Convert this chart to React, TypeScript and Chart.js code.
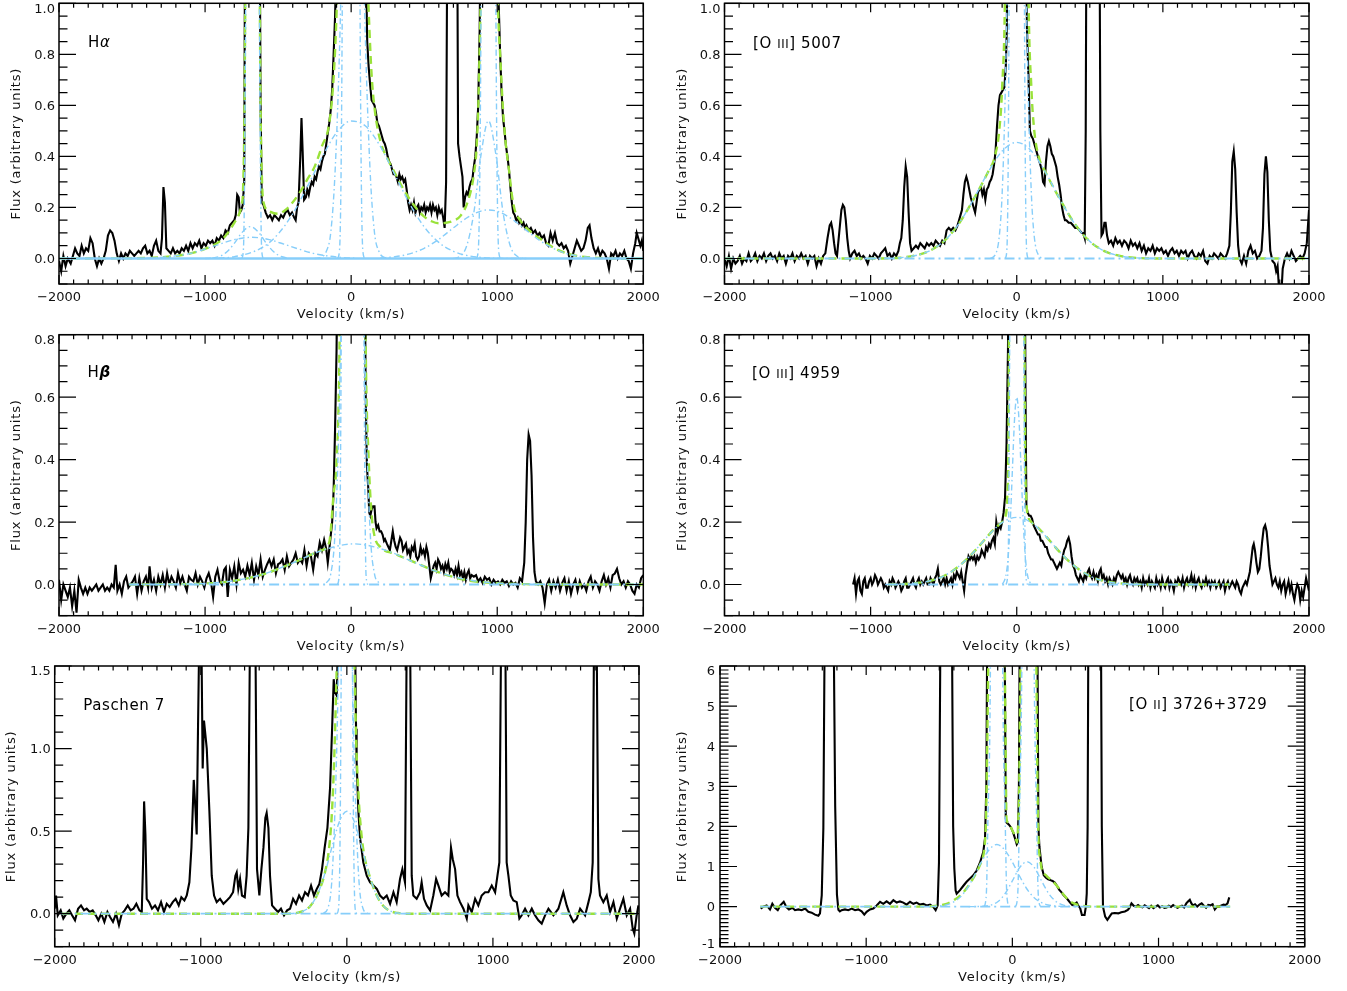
import React, { useEffect, useRef } from 'react';
import { Chart, registerables } from 'chart.js';

Chart.register(...registerables);

type Pt = [number, number];

// ---------------- tick values ----------------
const velocityTicks = [-2000, -1000, 0, 1000, 2000];
const fluxTicksTop = [0, 0.2, 0.4, 0.6, 0.8, 1.0];
const fluxTicksMid = [0, 0.2, 0.4, 0.6, 0.8];
const fluxTicksPa = [0, 0.5, 1.0, 1.5];
const fluxTicksO2 = [-1, 0, 1, 2, 3, 4, 5, 6];

// ---------------- H alpha ----------------
const haSpectrum: Pt[] = [
  [-2000,-0.01],[-1985,-0.05],[-1970,0.01],[-1955,-0.03],[-1940,0.0],[-1920,-0.02],[-1905,0.01],[-1890,0.04],[-1875,0.02],[-1860,0.01],
  [-1845,0.05],[-1830,0.02],[-1815,0.04],[-1800,0.03],[-1785,0.08],[-1770,0.06],[-1755,0.0],[-1740,-0.03],[-1725,0.0],[-1710,-0.02],
  [-1695,0.0],[-1680,0.03],[-1665,0.09],[-1650,0.11],[-1635,0.10],[-1620,0.07],[-1605,0.02],[-1590,-0.01],[-1575,0.02],[-1560,0.0],
  [-1545,0.02],[-1530,0.01],[-1515,0.03],[-1500,0.02],[-1485,0.01],[-1470,0.02],[-1455,0.03],[-1440,0.02],[-1425,0.04],[-1410,0.05],
  [-1395,0.02],[-1380,0.03],[-1365,0.01],[-1350,0.05],[-1335,0.07],[-1320,0.03],[-1305,0.02],[-1295,0.08],[-1285,0.28],[-1275,0.22],
  [-1265,0.04],[-1250,0.03],[-1235,0.02],[-1220,0.04],[-1205,0.02],[-1190,0.03],[-1175,0.02],[-1160,0.04],[-1145,0.03],[-1130,0.05],
  [-1115,0.03],[-1100,0.06],[-1085,0.04],[-1070,0.06],[-1055,0.05],[-1040,0.07],[-1025,0.04],[-1010,0.06],[-995,0.05],[-980,0.07],
  [-965,0.06],[-950,0.07],[-935,0.05],[-920,0.08],[-905,0.07],[-890,0.09],[-875,0.08],[-860,0.11],[-845,0.10],[-830,0.13],
  [-815,0.14],[-800,0.15],[-790,0.17],[-780,0.25],[-770,0.24],[-762,0.18],[-752,0.19],[-742,0.21],[-732,0.3],[-725,1.5],
  [-700,3],[-660,3],[-628,1.5],[-620,0.6],[-612,0.22],[-600,0.21],[-585,0.18],[-570,0.16],[-555,0.17],[-540,0.15],
  [-525,0.17],[-510,0.16],[-495,0.15],[-480,0.17],[-465,0.16],[-450,0.18],[-435,0.19],[-420,0.17],[-405,0.18],[-390,0.16],
  [-380,0.15],[-370,0.20],[-360,0.22],[-348,0.40],[-340,0.55],[-332,0.42],[-322,0.23],[-310,0.24],[-300,0.27],[-290,0.25],
  [-280,0.28],[-270,0.30],[-260,0.29],[-250,0.32],[-240,0.31],[-230,0.34],[-220,0.36],[-210,0.35],[-200,0.38],[-190,0.40],
  [-180,0.41],[-170,0.45],[-160,0.49],[-150,0.53],[-140,0.58],[-130,0.66],[-120,0.8],[-110,0.95],[-100,1.2],[-80,2.5],
  [0,4],[80,2.5],[100,1.2],[110,0.85],[120,0.75],[130,0.68],[140,0.62],[150,0.61],[160,0.60],[170,0.57],
  [180,0.53],[190,0.52],[200,0.50],[210,0.48],[220,0.46],[230,0.45],[240,0.43],[250,0.40],[260,0.38],[270,0.37],
  [280,0.35],[290,0.33],[300,0.33],[310,0.32],[320,0.30],[330,0.33],[340,0.31],[350,0.32],[360,0.30],[370,0.31],
  [380,0.27],[390,0.22],[400,0.19],[410,0.21],[420,0.19],[430,0.22],[440,0.18],[450,0.20],[460,0.21],[470,0.18],
  [480,0.20],[490,0.19],[500,0.21],[510,0.18],[520,0.20],[530,0.19],[540,0.21],[550,0.18],[560,0.21],[570,0.19],
  [580,0.20],[590,0.17],[600,0.20],[610,0.18],[620,0.19],[630,0.16],[640,0.12],[650,0.30],[660,1.5],[700,3],
  [725,1.5],[732,0.45],[742,0.40],[752,0.36],[762,0.32],[770,0.20],[780,0.24],[790,0.26],[800,0.25],[810,0.28],
  [820,0.30],[830,0.31],[840,0.36],[850,0.40],[860,0.48],[870,0.60],[880,0.9],[890,1.6],[940,4],[1000,1.6],
  [1010,1.0],[1020,0.8],[1030,0.65],[1040,0.55],[1050,0.50],[1060,0.44],[1070,0.40],[1080,0.35],[1090,0.28],[1100,0.22],
  [1110,0.18],[1120,0.17],[1130,0.15],[1140,0.16],[1150,0.14],[1160,0.15],[1170,0.13],[1180,0.14],[1190,0.12],[1200,0.13],
  [1215,0.11],[1230,0.12],[1245,0.10],[1260,0.11],[1275,0.09],[1290,0.10],[1305,0.08],[1320,0.09],[1335,0.06],[1350,0.05],
  [1365,0.10],[1380,0.07],[1395,0.10],[1410,0.06],[1425,0.05],[1440,0.06],[1455,0.04],[1470,0.05],[1485,0.03],[1500,-0.02],
  [1515,0.01],[1530,0.04],[1545,0.07],[1560,0.05],[1575,0.03],[1590,0.04],[1605,0.07],[1620,0.12],[1632,0.13],[1645,0.08],
  [1660,0.04],[1675,0.02],[1690,0.04],[1705,0.01],[1720,0.03],[1735,0.02],[1750,0.0],[1765,-0.04],[1780,0.02],[1795,0.01],
  [1810,0.03],[1825,0.0],[1840,0.02],[1855,0.01],[1870,0.03],[1885,0.0],[1900,-0.01],[1915,-0.04],[1930,0.02],[1945,0.06],
  [1955,0.10],[1965,0.08],[1980,0.05],[1990,0.07],[2000,0.03],
];
const haFit: Pt[] = [
  [-2000,0],[-1500,0.001],[-1400,0.002],[-1300,0.005],[-1200,0.01],[-1100,0.02],[-1000,0.038],[-900,0.067],[-850,0.096],[-800,0.14],
  [-770,0.17],[-750,0.21],[-740,0.27],[-730,0.6],[-720,1.5],[-700,4],[-650,4],[-630,1.5],[-620,0.6],[-610,0.3],
  [-600,0.22],[-560,0.185],[-500,0.175],[-450,0.19],[-400,0.22],[-350,0.26],[-300,0.31],[-250,0.36],[-200,0.44],[-150,0.53],
  [-120,0.71],[-100,0.96],[-80,1.4],[-50,3],[0,8],[50,3],[80,1.6],[100,1.3],[120,0.97],[140,0.72],
  [160,0.59],[200,0.46],[250,0.39],[300,0.334],[350,0.28],[400,0.233],[450,0.194],[500,0.164],[550,0.146],[600,0.138],
  [650,0.14],[700,0.148],[750,0.168],[800,0.226],[840,0.33],[860,0.45],[875,0.7],[890,1.3],[910,4],[970,4],
  [990,1.5],[1005,1.0],[1020,0.8],[1040,0.58],[1060,0.44],[1080,0.35],[1100,0.25],[1120,0.19],[1150,0.155],[1200,0.12],
  [1300,0.075],[1400,0.038],[1500,0.016],[1600,0.006],[1700,0.002],[1800,0],[2000,0],
];
const haBroad: Pt[] = [[-1000,0],[-800,0.007],[-600,0.046],[-500,0.096],[-400,0.175],[-300,0.281],[-200,0.396],[-100,0.493],[0,0.539],[100,0.518],[200,0.439],[300,0.327],[400,0.215],[500,0.124],[600,0.063],[700,0.028],[800,0.011],[1000,0.001],[1200,0]];
const haMedium: Pt[] = [[-250,0],[-200,0.006],[-170,0.028],[-140,0.10],[-110,0.34],[-80,0.81],[-50,1.52],[10,2.5],[70,1.52],[100,0.81],[130,0.34],[160,0.10],[190,0.028],[220,0.006],[270,0]];
const haNarrow: Pt[] = [[-95,0],[-80,0.03],[-65,0.6],[-45,3],[0,8],[45,3],[65,0.6],[80,0.03],[95,0]];
const n2rBroad: Pt[] = [[200,0.002],[300,0.007],[400,0.018],[500,0.04],[600,0.075],[700,0.12],[800,0.162],[900,0.188],[940,0.19],[1000,0.185],[1100,0.155],[1200,0.11],[1300,0.067],[1400,0.035],[1500,0.015],[1600,0.006],[1700,0]];
const n2rMedium: Pt[] = [[700,0],[740,0.007],[790,0.048],[840,0.18],[890,0.41],[940,0.54],[990,0.41],[1040,0.18],[1090,0.048],[1140,0.007],[1180,0]];
const n2rNarrow: Pt[] = [[855,0],[870,0.03],[885,0.6],[905,3],[940,8],[975,3],[995,0.6],[1010,0.03],[1025,0]];
const n2bBroad: Pt[] = [[-1400,0.001],[-1300,0.004],[-1200,0.01],[-1100,0.02],[-1000,0.037],[-900,0.056],[-800,0.074],[-680,0.083],[-560,0.074],[-460,0.056],[-360,0.037],[-260,0.02],[-160,0.01],[-60,0.004],[40,0.001]];
const n2bMedium: Pt[] = [[-950,0.002],[-900,0.008],[-850,0.026],[-800,0.059],[-750,0.1],[-690,0.125],[-630,0.1],[-580,0.059],[-530,0.026],[-480,0.008],[-430,0.002]];
const n2bNarrow: Pt[] = [[-750,0],[-738,0.03],[-726,0.6],[-708,3],[-675,8],[-642,3],[-624,0.6],[-612,0.03],[-600,0]];
const haZeroRange: [number, number] = [-2000, 2000];

// ---------------- [O III] 5007 ----------------
const o3aSpectrum: Pt[] = [
  [-2000,0.0],[-1985,-0.03],[-1970,0.01],[-1955,-0.04],[-1940,0.0],[-1925,-0.02],[-1910,-0.01],[-1895,0.01],[-1880,-0.02],[-1865,0.0],
  [-1850,-0.01],[-1835,0.02],[-1820,-0.01],[-1805,0.0],[-1790,0.02],[-1775,-0.01],[-1760,0.01],[-1745,0.0],[-1730,0.02],[-1715,-0.01],
  [-1700,0.01],[-1685,0.02],[-1670,0.0],[-1655,0.01],[-1640,-0.01],[-1625,0.02],[-1610,0.0],[-1595,0.01],[-1580,-0.02],[-1565,0.01],
  [-1550,0.0],[-1535,0.02],[-1520,-0.01],[-1505,0.01],[-1490,0.0],[-1475,0.02],[-1460,0.0],[-1445,0.01],[-1430,-0.02],[-1415,0.01],
  [-1400,0.0],[-1385,0.01],[-1370,-0.03],[-1355,0.0],[-1340,-0.02],[-1325,0.01],[-1310,0.02],[-1295,0.08],[-1280,0.13],[-1270,0.14],
  [-1260,0.11],[-1250,0.06],[-1240,0.02],[-1230,0.01],[-1215,0.10],[-1200,0.19],[-1190,0.21],[-1180,0.20],[-1170,0.15],[-1160,0.08],
  [-1150,0.03],[-1140,0.0],[-1125,0.02],[-1110,0.03],[-1095,0.01],[-1080,0.02],[-1065,0.0],[-1050,0.01],[-1035,0.0],[-1020,-0.02],
  [-1005,0.01],[-990,0.0],[-975,0.02],[-960,0.01],[-945,0.0],[-930,0.02],[-915,0.03],[-900,0.04],[-885,0.01],[-870,0.02],
  [-855,0.0],[-840,0.02],[-825,0.01],[-810,0.03],[-800,0.06],[-790,0.08],[-780,0.15],[-770,0.28],[-760,0.36],[-750,0.32],
  [-740,0.18],[-730,0.06],[-720,0.03],[-705,0.04],[-690,0.05],[-675,0.04],[-660,0.06],[-645,0.05],[-630,0.04],[-615,0.06],
  [-600,0.05],[-585,0.06],[-570,0.05],[-555,0.07],[-540,0.06],[-525,0.05],[-510,0.07],[-495,0.06],[-480,0.11],[-465,0.12],
  [-450,0.11],[-435,0.12],[-420,0.11],[-405,0.13],[-395,0.15],[-385,0.17],[-375,0.19],[-365,0.25],[-355,0.30],[-345,0.32],
  [-335,0.30],[-325,0.27],[-315,0.24],[-305,0.22],[-295,0.20],[-285,0.18],[-275,0.22],[-265,0.26],[-255,0.27],[-245,0.28],
  [-235,0.25],[-225,0.27],[-215,0.23],[-205,0.27],[-195,0.28],[-185,0.30],[-175,0.31],[-165,0.33],[-155,0.37],[-145,0.42],
  [-135,0.52],[-125,0.60],[-115,0.64],[-105,0.65],[-95,0.66],[-85,0.67],[-75,0.75],[-68,0.9],[-60,1.5],[0,3],
  [60,1.5],[70,0.9],[80,0.72],[90,0.50],[100,0.48],[110,0.47],[120,0.45],[130,0.43],[140,0.41],[150,0.39],
  [160,0.37],[170,0.35],[180,0.30],[190,0.29],[200,0.38],[210,0.44],[220,0.46],[230,0.44],[240,0.41],[250,0.40],
  [260,0.38],[270,0.36],[280,0.32],[290,0.29],[300,0.25],[310,0.20],[320,0.17],[330,0.15],[340,0.15],[355,0.14],
  [370,0.14],[385,0.13],[400,0.12],[415,0.12],[430,0.11],[445,0.10],[455,0.10],[465,0.08],[472,0.5],[478,1.5],
  [565,1.5],[572,0.5],[580,0.09],[590,0.10],[600,0.14],[608,0.14],[618,0.09],[630,0.06],[645,0.07],[660,0.05],
  [675,0.08],[690,0.06],[705,0.07],[720,0.05],[735,0.07],[750,0.06],[765,0.04],[780,0.07],[795,0.05],[810,0.06],
  [825,0.04],[840,0.06],[855,0.03],[870,0.05],[885,0.02],[900,0.04],[915,0.03],[930,0.05],[945,0.02],[960,0.04],
  [975,0.03],[990,0.04],[1005,0.02],[1020,0.03],[1035,0.01],[1050,0.03],[1065,0.04],[1080,0.02],[1095,0.03],[1110,0.01],
  [1125,0.03],[1140,0.02],[1155,0.03],[1170,0.0],[1185,0.02],[1200,0.03],[1215,0.01],[1230,0.0],[1245,0.02],[1260,0.01],
  [1275,0.03],[1290,-0.01],[1305,-0.02],[1320,0.01],[1335,0.0],[1350,0.02],[1365,0.01],[1380,0.0],[1395,0.02],[1410,0.01],
  [1425,0.0],[1440,0.02],[1455,0.05],[1465,0.18],[1475,0.38],[1485,0.42],[1495,0.35],[1505,0.18],[1515,0.05],[1525,0.0],
  [1540,-0.02],[1555,0.01],[1570,-0.02],[1585,0.03],[1600,0.05],[1615,0.02],[1630,0.03],[1645,0.0],[1660,0.01],[1675,0.03],
  [1685,0.12],[1695,0.33],[1705,0.40],[1715,0.34],[1725,0.15],[1735,0.03],[1750,-0.01],[1765,-0.02],[1775,-0.05],[1785,-0.03],
  [1795,-0.12],[1810,-0.15],[1820,-0.04],[1835,0.0],[1850,0.02],[1865,0.0],[1880,0.03],[1895,0.01],[1910,-0.01],[1925,0.0],
  [1940,0.01],[1955,0.0],[1970,0.02],[1985,0.06],[2000,0.19],
];
const o3aFit: Pt[] = [[-2000,0],[-1000,0],[-800,0.003],[-700,0.011],[-600,0.029],[-500,0.067],[-400,0.133],[-300,0.228],[-200,0.335],[-150,0.40],[-120,0.50],[-100,0.67],[-80,1.05],[-60,2.4],[-40,6],[0,11],[40,6],[60,2.4],[80,1.05],[100,0.67],[120,0.50],[150,0.40],[200,0.335],[300,0.228],[400,0.133],[500,0.067],[600,0.029],[700,0.011],[800,0.003],[1000,0],[2000,0]];
const o3aBroad: Pt[] = [[-1000,0],[-900,0.001],[-800,0.003],[-700,0.0105],[-600,0.029],[-500,0.067],[-400,0.133],[-300,0.228],[-200,0.334],[-100,0.421],[0,0.455],[100,0.421],[200,0.334],[300,0.228],[400,0.133],[500,0.067],[600,0.029],[700,0.0105],[800,0.003],[900,0.001],[1000,0]];
const o3aNarrow1: Pt[] = [[-180,0.001],[-150,0.012],[-120,0.085],[-100,0.254],[-80,0.62],[-60,1.23],[-40,2.02],[0,3],[40,2.02],[60,1.23],[80,0.62],[100,0.254],[120,0.085],[150,0.012],[180,0.001]];
const o3aNarrow2: Pt[] = [[-80,0],[-68,0.03],[-56,0.6],[-40,3],[0,8],[40,3],[56,0.6],[68,0.03],[80,0]];
const o3aZeroRange: [number, number] = [-2000, 2000];

// ---------------- H beta ----------------
const hbSpectrum: Pt[] = [
  [-2000,0.015],[-1985,-0.05],[-1970,0.0],[-1955,-0.02],[-1940,-0.04],[-1925,-0.01],[-1910,-0.07],[-1895,-0.02],[-1880,-0.09],[-1865,0.015],
  [-1850,-0.01],[-1835,-0.03],[-1820,-0.01],[-1805,-0.03],[-1790,-0.01],[-1775,-0.02],[-1760,-0.01],[-1745,0.0],[-1730,-0.02],[-1715,-0.01],
  [-1700,0.0],[-1685,-0.02],[-1670,-0.01],[-1655,-0.02],[-1640,0.0],[-1625,-0.01],[-1612,0.063],[-1600,-0.02],[-1585,0.0],[-1570,-0.03],
  [-1555,0.01],[-1540,0.025],[-1525,-0.01],[-1510,0.0],[-1495,0.01],[-1480,0.025],[-1465,-0.03],[-1450,0.02],[-1435,-0.02],[-1420,0.01],
  [-1405,0.025],[-1390,-0.01],[-1380,0.058],[-1365,-0.01],[-1350,0.015],[-1335,-0.02],[-1320,0.025],[-1305,0.0],[-1290,0.03],[-1275,-0.01],
  [-1260,0.036],[-1245,0.0],[-1230,0.025],[-1215,0.01],[-1200,-0.01],[-1185,0.036],[-1170,0.005],[-1155,0.025],[-1140,0.0],[-1125,-0.02],
  [-1110,0.025],[-1095,0.015],[-1080,0.01],[-1065,0.036],[-1050,0.0],[-1035,0.025],[-1020,0.01],[-1005,-0.01],[-990,0.02],[-975,0.036],
  [-960,0.01],[-945,-0.04],[-930,0.025],[-915,0.047],[-900,0.01],[-885,0.0],[-870,0.047],[-858,0.055],[-845,-0.04],[-830,0.047],
  [-815,0.02],[-800,0.058],[-785,0.0],[-770,0.069],[-755,0.036],[-740,0.047],[-725,0.025],[-710,0.06],[-695,0.03],[-680,0.069],
  [-665,0.015],[-650,0.058],[-635,0.03],[-620,0.08],[-605,0.025],[-590,0.047],[-575,0.065],[-560,0.08],[-545,0.058],[-530,0.08],
  [-515,0.036],[-500,0.065],[-485,0.069],[-470,0.08],[-455,0.047],[-440,0.09],[-425,0.058],[-410,0.069],[-395,0.08],[-380,0.1],
  [-365,0.069],[-350,0.08],[-335,0.069],[-320,0.11],[-305,0.06],[-290,0.1],[-275,0.09],[-260,0.047],[-245,0.1],[-230,0.09],
  [-215,0.134],[-200,0.11],[-185,0.143],[-170,0.112],[-160,0.07],[-150,0.112],[-140,0.156],[-130,0.2],[-120,0.3],[-110,0.5],
  [-100,0.75],[-90,1.2],[0,3],[90,1.2],[100,0.6],[108,0.38],[117,0.31],[124,0.23],[131,0.22],[140,0.24],
  [150,0.25],[160,0.25],[167,0.20],[174,0.18],[185,0.19],[195,0.17],[205,0.17],[215,0.16],[225,0.14],[232,0.145],
  [245,0.13],[255,0.12],[265,0.11],[275,0.14],[285,0.17],[295,0.14],[305,0.12],[315,0.11],[325,0.13],[335,0.15],
  [345,0.14],[355,0.11],[365,0.12],[375,0.13],[385,0.10],[395,0.11],[405,0.09],[415,0.12],[425,0.11],[435,0.13],
  [445,0.09],[455,0.08],[465,0.09],[475,0.12],[485,0.10],[495,0.11],[505,0.09],[515,0.12],[525,0.10],[535,0.06],
  [545,0.02],[555,0.04],[565,0.06],[575,0.07],[585,0.05],[595,0.08],[605,0.07],[615,0.05],[625,0.06],[635,0.04],
  [645,0.065],[655,0.05],[665,0.07],[675,0.04],[685,0.05],[695,0.045],[705,0.03],[715,0.05],[725,0.03],[735,0.06],
  [745,0.03],[755,0.04],[765,0.02],[775,0.04],[785,0.015],[795,0.035],[805,0.045],[815,0.02],[825,0.03],[840,0.025],
  [855,0.03],[870,0.01],[885,0.02],[900,0.005],[915,0.025],[930,0.015],[945,0.02],[960,0.0],[975,0.015],[990,0.005],
  [1005,0.01],[1020,0.0],[1035,0.015],[1050,0.005],[1065,0.01],[1080,-0.005],[1095,0.01],[1110,0.0],[1125,0.005],[1140,-0.01],
  [1155,0.02],[1170,0.01],[1185,0.07],[1195,0.2],[1205,0.4],[1215,0.48],[1225,0.46],[1235,0.35],[1245,0.15],[1255,0.04],
  [1265,0.01],[1280,0.0],[1295,0.01],[1310,-0.01],[1325,-0.06],[1340,0.0],[1355,0.015],[1370,-0.02],[1385,0.01],[1400,-0.01],
  [1415,0.015],[1430,-0.02],[1445,0.005],[1460,0.02],[1475,-0.02],[1490,0.01],[1505,-0.03],[1520,0.0],[1535,0.015],[1550,-0.02],
  [1565,0.01],[1580,-0.01],[1595,0.0],[1610,-0.02],[1625,0.01],[1640,0.025],[1655,-0.01],[1670,0.01],[1685,0.0],[1700,-0.02],
  [1715,0.01],[1730,0.03],[1745,0.0],[1760,0.02],[1775,-0.01],[1790,0.03],[1805,0.035],[1820,0.05],[1835,0.02],[1850,0.0],
  [1865,0.01],[1880,-0.01],[1895,0.01],[1910,0.0],[1925,-0.02],[1940,-0.03],[1955,0.0],[1970,-0.01],[1985,0.02],[2000,0.03],
];
const hbFit: Pt[] = [[-1520,0],[-1200,0.001],[-1000,0.003],[-800,0.012],[-600,0.033],[-400,0.069],[-300,0.09],[-200,0.11],[-150,0.135],[-120,0.29],[-100,0.39],[-80,0.75],[-60,1.9],[-40,5],[10,11],[60,5],[80,1.9],[100,0.75],[120,0.4],[140,0.225],[160,0.155],[200,0.12],[300,0.098],[400,0.078],[600,0.039],[800,0.013],[1000,0.004],[1200,0.001],[1500,0],[2000,0]];
const hbBroad: Pt[] = [[-1500,0],[-1200,0.001],[-1000,0.003],[-800,0.012],[-600,0.033],[-400,0.069],[-200,0.109],[20,0.13],[240,0.109],[440,0.069],[640,0.033],[840,0.012],[1040,0.003],[1240,0.001],[1540,0]];
const hbNarrow1: Pt[] = [[-170,0.005],[-140,0.033],[-110,0.17],[-80,0.59],[-50,1.46],[-20,2.5],[10,3],[40,2.5],[70,1.46],[100,0.59],[130,0.17],[160,0.033],[190,0.005]];
const hbNarrow2: Pt[] = [[-95,0],[-82,0.03],[-70,0.6],[-50,3],[10,8],[70,3],[90,0.6],[102,0.03],[115,0]];
const hbZeroRange: [number, number] = [-1520, 2000];

// ---------------- [O III] 4959 ----------------
const o3bSpectrum: Pt[] = [
  [-1120,0.0],[-1110,0.02],[-1100,-0.03],[-1090,0.01],[-1080,0.02],[-1070,-0.02],[-1060,-0.03],[-1050,0.01],[-1040,0.02],[-1030,-0.01],
  [-1020,-0.01],[-1010,0.01],[-1000,0.02],[-990,0.0],[-980,0.01],[-970,0.03],[-960,0.02],[-950,0.0],[-940,0.01],[-930,0.02],
  [-920,0.01],[-910,-0.01],[-900,0.0],[-890,-0.01],[-880,-0.02],[-870,0.01],[-860,0.0],[-850,0.02],[-840,0.01],[-830,-0.01],
  [-820,0.0],[-810,0.01],[-800,0.0],[-790,-0.02],[-780,-0.01],[-770,0.01],[-760,0.02],[-750,-0.01],[-740,-0.01],[-730,0.0],
  [-720,0.01],[-710,0.02],[-700,0.0],[-690,-0.01],[-680,0.01],[-670,0.02],[-660,0.0],[-650,0.01],[-640,0.0],[-630,0.01],
  [-620,0.02],[-610,0.0],[-600,0.0],[-590,0.02],[-580,0.01],[-570,0.0],[-560,0.02],[-550,0.03],[-540,0.05],[-530,0.01],
  [-520,0.0],[-510,0.01],[-500,0.02],[-490,0.0],[-480,0.02],[-470,0.0],[-460,0.01],[-450,0.02],[-440,0.0],[-430,0.03],
  [-420,0.02],[-410,0.04],[-400,0.03],[-390,0.02],[-380,0.04],[-370,0.01],[-360,-0.02],[-350,0.03],[-340,0.06],[-330,0.09],
  [-320,0.08],[-310,0.09],[-300,0.08],[-290,0.09],[-280,0.07],[-270,0.09],[-260,0.08],[-250,0.09],[-240,0.11],[-230,0.10],
  [-220,0.09],[-210,0.12],[-200,0.11],[-190,0.13],[-180,0.12],[-170,0.14],[-160,0.15],[-150,0.13],[-140,0.20],[-130,0.17],
  [-120,0.19],[-110,0.18],[-100,0.20],[-90,0.23],[-80,0.28],[-70,0.45],[-60,0.75],[-50,1.5],[0,3],[50,1.5],
  [60,0.6],[66,0.25],[75,0.23],[85,0.22],[95,0.22],[105,0.21],[115,0.19],[125,0.18],[135,0.17],[145,0.16],
  [155,0.16],[165,0.14],[175,0.14],[185,0.13],[195,0.12],[205,0.12],[215,0.10],[225,0.09],[235,0.08],[245,0.08],
  [255,0.07],[265,0.06],[275,0.05],[285,0.06],[295,0.07],[305,0.06],[315,0.09],[325,0.11],[335,0.12],[345,0.14],
  [355,0.15],[365,0.13],[375,0.09],[385,0.06],[395,0.05],[405,0.03],[415,0.02],[425,0.01],[435,0.03],[445,0.02],
  [455,0.01],[465,0.03],[475,0.02],[485,0.04],[495,0.05],[505,0.03],[515,0.02],[525,0.04],[535,0.02],[545,0.03],
  [555,0.01],[565,0.04],[575,0.05],[585,0.02],[595,0.03],[605,0.01],[615,0.02],[625,0.0],[635,0.02],[645,0.01],
  [655,0.0],[665,0.02],[675,0.01],[685,0.03],[695,0.04],[705,0.03],[715,0.02],[725,0.03],[735,0.01],[745,0.02],
  [755,0.0],[765,0.02],[775,0.03],[785,0.01],[795,0.0],[805,0.02],[815,0.01],[825,0.02],[835,0.0],[845,0.01],
  [855,-0.01],[865,0.02],[875,0.0],[885,0.01],[895,0.0],[905,0.02],[915,-0.01],[925,0.01],[935,0.0],[945,-0.01],
  [955,0.02],[965,0.0],[975,0.01],[985,-0.01],[995,0.02],[1005,0.0],[1015,-0.01],[1025,0.01],[1035,0.02],[1045,-0.01],
  [1055,0.01],[1065,0.0],[1075,-0.02],[1085,0.01],[1095,0.0],[1105,0.02],[1115,0.01],[1125,0.0],[1135,0.02],[1145,-0.01],
  [1155,0.01],[1165,0.02],[1175,0.0],[1185,0.01],[1195,0.03],[1205,0.0],[1215,0.02],[1225,-0.01],[1235,0.01],[1245,0.02],
  [1255,0.0],[1265,-0.01],[1275,0.01],[1285,0.0],[1295,0.02],[1305,0.0],[1315,0.01],[1325,-0.01],[1335,0.01],[1345,0.0],
  [1355,0.01],[1365,-0.01],[1375,0.0],[1385,0.01],[1395,-0.01],[1405,0.0],[1415,0.01],[1425,-0.02],[1435,0.0],[1445,0.01],
  [1455,-0.01],[1465,0.0],[1475,0.01],[1485,0.0],[1495,-0.01],[1505,0.01],[1515,0.0],[1525,-0.02],[1535,-0.03],[1545,-0.01],
  [1555,0.0],[1565,0.01],[1575,0.0],[1585,0.02],[1595,0.04],[1605,0.08],[1615,0.12],[1622,0.13],[1630,0.11],[1640,0.07],
  [1650,0.04],[1660,0.05],[1670,0.09],[1680,0.14],[1690,0.18],[1700,0.19],[1710,0.17],[1720,0.12],[1730,0.06],[1740,0.03],
  [1750,0.0],[1760,0.01],[1770,0.02],[1780,0.0],[1790,-0.01],[1800,0.01],[1810,-0.02],[1820,0.0],[1830,0.01],[1840,-0.03],
  [1850,-0.01],[1860,0.01],[1870,-0.02],[1880,0.0],[1890,-0.03],[1900,-0.05],[1910,-0.02],[1920,0.0],[1930,-0.01],[1940,-0.05],
  [1950,-0.02],[1960,-0.04],[1970,-0.01],[1980,0.02],[1990,0.0],[2000,-0.02],
];
const o3bFit: Pt[] = [[-880,0],[-800,0.001],[-700,0.004],[-600,0.011],[-500,0.027],[-400,0.057],[-300,0.101],[-200,0.154],[-150,0.18],[-100,0.2],[-80,0.215],[-65,0.28],[-55,0.62],[-45,2.4],[-35,4],[0,9],[35,4],[45,2.4],[55,0.62],[65,0.28],[80,0.215],[100,0.2],[150,0.18],[200,0.154],[300,0.101],[400,0.057],[500,0.027],[600,0.011],[700,0.004],[800,0.001],[880,0],[1460,0]];
const o3bBroad: Pt[] = [[-900,0],[-800,0.001],[-700,0.004],[-600,0.011],[-500,0.027],[-400,0.057],[-300,0.101],[-200,0.154],[-100,0.198],[0,0.215],[100,0.198],[200,0.154],[300,0.101],[400,0.057],[500,0.027],[600,0.011],[700,0.004],[800,0.001],[900,0]];
const o3bMedium: Pt[] = [[-100,0.002],[-90,0.007],[-75,0.027],[-60,0.081],[-45,0.195],[-30,0.364],[-15,0.53],[0,0.6],[15,0.53],[30,0.364],[45,0.195],[60,0.081],[75,0.027],[90,0.007],[100,0.002]];
const o3bNarrow: Pt[] = [[-75,0],[-62,0.03],[-50,0.6],[-35,3],[0,8],[35,3],[50,0.6],[62,0.03],[75,0]];
const o3bZeroRange: [number, number] = [-880, 1460];

// ---------------- Paschen 7 ----------------
const paSpectrum: Pt[] = [
  [-2000,0.03],[-1991,0.11],[-1979,-0.01],[-1959,0.02],[-1941,-0.03],[-1920,0.0],[-1900,0.02],[-1881,-0.01],[-1861,-0.04],[-1840,0.03],
  [-1820,0.05],[-1799,0.02],[-1781,0.03],[-1760,0.01],[-1740,0.02],[-1719,-0.01],[-1701,-0.04],[-1681,0.0],[-1660,-0.05],[-1639,0.01],
  [-1621,-0.02],[-1601,-0.05],[-1580,0.0],[-1560,-0.07],[-1541,0.0],[-1521,0.02],[-1500,0.05],[-1480,0.02],[-1461,0.03],[-1441,0.06],
  [-1420,0.02],[-1404,0.01],[-1395,0.31],[-1388,0.68],[-1379,0.48],[-1370,0.09],[-1354,0.07],[-1334,0.03],[-1313,0.05],[-1293,0.02],
  [-1272,0.07],[-1252,0.01],[-1233,0.06],[-1213,0.04],[-1192,0.07],[-1172,0.09],[-1151,0.05],[-1133,0.10],[-1112,0.08],[-1096,0.11],
  [-1078,0.19],[-1064,0.40],[-1048,0.81],[-1037,0.64],[-1028,0.48],[-1019,1.12],[-1010,1.7],[-996,1.7],[-987,0.88],[-978,1.17],
  [-959,1.0],[-941,0.62],[-925,0.23],[-909,0.11],[-891,0.07],[-868,0.09],[-845,0.06],[-822,0.08],[-800,0.10],[-779,0.13],
  [-763,0.23],[-754,0.25],[-743,0.15],[-731,0.21],[-718,0.11],[-699,0.10],[-686,0.23],[-674,0.52],[-663,1.7],[-626,1.7],
  [-615,0.27],[-599,0.11],[-585,0.27],[-571,0.40],[-558,0.58],[-549,0.61],[-537,0.52],[-526,0.23],[-512,0.05],[-492,0.03],
  [-471,0.01],[-451,0.03],[-430,-0.01],[-409,0.02],[-389,0.03],[-368,0.09],[-348,0.06],[-327,0.11],[-307,0.08],[-286,0.13],
  [-266,0.11],[-245,0.17],[-225,0.11],[-206,0.15],[-188,0.18],[-170,0.27],[-152,0.40],[-133,0.52],[-115,0.76],[-101,1.12],
  [-90,1.42],[-80,1.34],[-69,1.32],[-60,1.7],[56,1.7],[63,1.12],[67,0.92],[79,0.62],[90,0.46],[113,0.31],
  [136,0.23],[159,0.19],[182,0.17],[205,0.15],[227,0.11],[250,0.09],[273,0.11],[296,0.06],[319,0.13],[341,0.07],
  [364,0.21],[380,0.27],[398,0.19],[410,1.7],[433,1.7],[444,0.23],[455,0.11],[478,0.09],[501,0.13],[512,0.19],
  [528,0.09],[547,0.05],[570,0.02],[592,0.11],[611,0.21],[627,0.17],[649,0.11],[672,0.13],[695,0.11],[713,0.40],
  [725,0.33],[741,0.27],[757,0.11],[775,0.07],[798,0.03],[821,-0.03],[832,0.05],[855,0.01],[878,0.09],[900,0.05],
  [923,0.11],[946,0.13],[969,0.13],[992,0.17],[1015,0.13],[1031,0.23],[1044,0.31],[1056,1.7],[1085,1.7],[1094,0.31],
  [1106,0.23],[1122,0.11],[1140,0.08],[1163,0.07],[1181,-0.03],[1197,-0.01],[1220,0.03],[1243,-0.01],[1266,0.03],[1288,-0.01],
  [1311,-0.04],[1334,-0.06],[1357,-0.01],[1380,0.03],[1414,-0.01],[1448,0.03],[1482,0.13],[1505,0.05],[1528,-0.01],[1551,-0.05],
  [1574,-0.03],[1597,0.03],[1631,-0.01],[1654,0.07],[1670,0.13],[1683,0.31],[1692,1.7],[1710,1.7],[1722,0.21],[1733,0.11],
  [1756,0.07],[1779,0.11],[1802,0.01],[1825,0.07],[1848,-0.03],[1870,0.03],[1893,0.09],[1916,-0.01],[1939,0.03],[1957,-0.09],
  [1968,-0.12],[1984,-0.01],[1996,0.05],
];
const paFit: Pt[] = [[-1950,0],[-500,0],[-400,0],[-350,0.004],[-300,0.015],[-250,0.047],[-200,0.12],[-150,0.25],[-120,0.41],[-100,0.65],[-80,1.13],[-60,1.95],[-40,3.5],[0,11],[40,2.5],[60,1.2],[80,0.72],[100,0.48],[120,0.35],[150,0.245],[200,0.119],[250,0.047],[300,0.015],[350,0.004],[400,0],[500,0],[2000,0]];
const paBroad: Pt[] = [[-400,0],[-350,0.004],[-300,0.015],[-250,0.047],[-200,0.119],[-150,0.245],[-100,0.41],[-50,0.56],[0,0.62],[50,0.56],[100,0.41],[150,0.245],[200,0.119],[250,0.047],[300,0.015],[350,0.004],[400,0]];
const paNarrow1: Pt[] = [[-160,0.003],[-130,0.033],[-100,0.24],[-70,0.97],[-40,2.27],[-10,3],[20,2.27],[50,0.97],[80,0.24],[110,0.033],[140,0.003]];
const paNarrow2: Pt[] = [[-70,0],[-57,0.03],[-45,0.6],[-30,3],[0,8],[30,3],[45,0.6],[57,0.03],[70,0]];
const paZeroRange: [number, number] = [-1960, 2000];

// ---------------- [O II] 3726+3729 ----------------
const o2Spectrum: Pt[] = [
  [-1722,-0.05],[-1703,0.0],[-1681,0.03],[-1658,-0.07],[-1642,0.07],[-1624,-0.03],[-1605,-0.09],[-1587,0.03],[-1564,0.12],[-1546,-0.01],
  [-1528,-0.07],[-1505,-0.03],[-1487,-0.09],[-1464,-0.07],[-1441,-0.09],[-1418,-0.05],[-1396,-0.13],[-1373,-0.15],[-1350,-0.2],[-1327,-0.23],
  [-1316,-0.17],[-1304,0.28],[-1293,1.95],[-1282,8],[-1225,8],[-1212,2.5],[-1200,0.3],[-1190,-0.08],[-1180,-0.12],[-1168,-0.09],
  [-1145,-0.07],[-1122,-0.09],[-1099,-0.05],[-1076,-0.09],[-1054,-0.07],[-1031,-0.12],[-1013,-0.2],[-997,-0.13],[-974,-0.07],[-951,-0.05],
  [-928,0.03],[-905,0.12],[-883,0.07],[-860,0.13],[-837,0.07],[-814,0.16],[-791,0.1],[-769,0.13],[-746,0.1],[-723,0.05],
  [-700,0.12],[-677,0.07],[-655,0.1],[-632,0.05],[-609,0.07],[-586,0.03],[-563,0.05],[-541,-0.01],[-525,-0.09],[-511,0.03],
  [-502,1.1],[-490,8],[-415,8],[-405,2.0],[-397,0.95],[-388,0.4],[-381,0.32],[-358,0.41],[-335,0.52],[-313,0.62],
  [-290,0.7],[-267,0.78],[-244,0.9],[-221,1.1],[-199,1.36],[-187,1.7],[-178,3],[-170,8],[-55,8],[-45,2.2],
  [-40,2.1],[-25,2.05],[-10,1.98],[5,1.85],[20,1.68],[30,1.55],[38,1.6],[45,3],[52,8],[170,8],
  [178,2],[185,1.5],[200,1.0],[215,0.78],[230,0.72],[245,0.68],[260,0.66],[275,0.64],[290,0.6],[305,0.52],
  [320,0.42],[335,0.36],[350,0.29],[365,0.23],[380,0.17],[395,0.1],[410,0.04],[425,0.06],[440,0.1],[452,0.02],
  [464,-0.04],[476,-0.21],[494,-0.21],[503,0.0],[509,0.33],[515,2],[521,8],[605,8],[612,2],[620,0.0],
  [635,-0.25],[650,-0.33],[665,-0.25],[680,-0.17],[700,-0.16],[725,-0.17],[745,-0.14],[770,-0.12],[790,-0.08],[800,-0.04],
  [815,0.08],[830,0.02],[845,0.0],[860,0.04],[875,0.0],[890,-0.02],[905,0.03],[920,0.0],[935,-0.04],[950,0.02],
  [965,-0.04],[980,0.0],[995,0.03],[1010,-0.02],[1025,0.01],[1040,-0.03],[1055,-0.02],[1070,0.02],[1085,-0.01],[1100,0.04],
  [1115,0.0],[1130,-0.03],[1145,0.0],[1160,0.02],[1175,-0.02],[1190,0.08],[1200,0.12],[1214,0.17],[1225,0.08],[1235,0.03],
  [1250,0.06],[1265,0.0],[1280,0.05],[1295,0.08],[1310,0.02],[1325,-0.03],[1340,0.04],[1355,0.03],[1370,0.06],[1385,-0.07],
  [1400,0.0],[1415,0.0],[1430,0.03],[1445,0.05],[1460,0.04],[1472,0.08],[1484,0.23],
];
const o2Fit: Pt[] = [[-1725,0],[-700,0],[-600,0.003],[-550,0.01],[-500,0.03],[-450,0.07],[-400,0.16],[-350,0.3],[-300,0.52],[-250,0.82],[-220,1.05],[-200,1.25],[-190,1.5],[-180,2.2],[-172,4],[-160,8],[-108,40],[-55,8],[-46,4],[-40,2.2],[-30,2.1],[-20,2.05],[0,1.9],[20,1.75],[32,1.6],[40,2.1],[47,3],[60,8],[107,30],[160,8],[172,3],[180,1.6],[190,1.2],[200,0.95],[230,0.78],[260,0.68],[290,0.58],[320,0.45],[350,0.3],[380,0.18],[420,0.08],[460,0.03],[500,0.01],[550,0],[1490,0]];
const o2BlueBroad: Pt[] = [[-556,0.002],[-506,0.014],[-456,0.041],[-406,0.108],[-356,0.24],[-306,0.47],[-256,0.8],[-206,1.15],[-156,1.43],[-106,1.55],[-56,1.43],[-6,1.15],[44,0.8],[94,0.47],[144,0.24],[194,0.108],[244,0.041],[294,0.014],[344,0.002]];
const o2RedBroad: Pt[] = [[-300,0],[-250,0.001],[-200,0.007],[-150,0.035],[-100,0.122],[-50,0.32],[0,0.64],[50,0.975],[100,1.12],[150,0.975],[200,0.64],[250,0.32],[300,0.122],[350,0.035],[400,0.007],[450,0.001],[500,0]];
const o2BlueNarrow: Pt[] = [[-195,0],[-184,0.1],[-176,0.5],[-168,2],[-150,6],[-108,40],[-66,6],[-48,2],[-40,0.5],[-32,0.1],[-21,0]];
const o2RedNarrow: Pt[] = [[20,0],[31,0.1],[39,0.5],[47,2],[65,6],[107,30],[149,6],[167,2],[175,0.5],[183,0.1],[194,0]];
const o2ZeroRange: [number, number] = [-1725, 1490];

// ---------------- styling ----------------
const BLACK = '#000000';
const GREEN = '#9ae23a';
const BLUE = '#87cefa';
const FONT = '"DejaVu Sans", "Liberation Sans", sans-serif';

interface Seg { t: string; f: string }
interface Panel {
  id: string;
  box: [number, number, number, number];
  area: [number, number, number, number];
  yMin: number; yMax: number; yTicks: number[]; yMinor: number; yDec: number;
  yTitleOff: number; yLabelGap: number;
  spectrum: Pt[]; fit: Pt[]; comps: Pt[][]; zero: [number, number]; zeroSolid: boolean;
  label: Seg[]; labelPos: [number, number];
}

const L15 = `15px ${FONT}`;
const S12 = `11.5px ${FONT}`;

const panels: Panel[] = [
  {
    id: 'ha', box: [0, 0, 666, 330], area: [59, 3.3, 643.3, 284],
    yMin: -0.1, yMax: 1.0, yTicks: fluxTicksTop, yMinor: 0.05, yDec: 1, yTitleOff: 39, yLabelGap: 4,
    spectrum: haSpectrum, fit: haFit,
    comps: [haBroad, haMedium, haNarrow, n2rBroad, n2rMedium, n2rNarrow, n2bBroad, n2bMedium, n2bNarrow],
    zero: haZeroRange, zeroSolid: true,
    label: [{ t: 'H', f: L15 }, { t: 'α', f: `italic 15px ${FONT}` }], labelPos: [88, 46.7],
  },
  {
    id: 'o3a', box: [666, 0, 681, 330], area: [724.5, 3.3, 1309, 284],
    yMin: -0.1, yMax: 1.0, yTicks: fluxTicksTop, yMinor: 0.05, yDec: 1, yTitleOff: 39, yLabelGap: 4,
    spectrum: o3aSpectrum, fit: o3aFit, comps: [o3aBroad, o3aNarrow1, o3aNarrow2],
    zero: o3aZeroRange, zeroSolid: false,
    label: [{ t: '[O ', f: L15 }, { t: 'III', f: S12 }, { t: '] 5007', f: L15 }], labelPos: [753, 48],
  },
  {
    id: 'hb', box: [0, 330, 666, 330], area: [59, 334.7, 643.3, 615.7],
    yMin: -0.1, yMax: 0.8, yTicks: fluxTicksMid, yMinor: 0.05, yDec: 1, yTitleOff: 39, yLabelGap: 4,
    spectrum: hbSpectrum, fit: hbFit, comps: [hbBroad, hbNarrow1, hbNarrow2],
    zero: hbZeroRange, zeroSolid: false,
    label: [{ t: 'H', f: L15 }, { t: 'β', f: `italic bold 15px ${FONT}` }], labelPos: [87.5, 376.7],
  },
  {
    id: 'o3b', box: [666, 330, 681, 330], area: [724.5, 334.7, 1309, 615.7],
    yMin: -0.1, yMax: 0.8, yTicks: fluxTicksMid, yMinor: 0.05, yDec: 1, yTitleOff: 39, yLabelGap: 4,
    spectrum: o3bSpectrum, fit: o3bFit, comps: [o3bBroad, o3bMedium, o3bNarrow],
    zero: o3bZeroRange, zeroSolid: false,
    label: [{ t: '[O ', f: L15 }, { t: 'III', f: S12 }, { t: '] 4959', f: L15 }], labelPos: [752, 378.3],
  },
  {
    id: 'pa', box: [0, 660, 666, 331], area: [54.7, 666, 639, 946.7],
    yMin: -0.2, yMax: 1.5, yTicks: fluxTicksPa, yMinor: 0.1, yDec: 1, yTitleOff: 40, yLabelGap: 4,
    spectrum: paSpectrum, fit: paFit, comps: [paBroad, paNarrow1, paNarrow2],
    zero: paZeroRange, zeroSolid: false,
    label: [{ t: 'Paschen 7', f: `15px ${FONT}` }], labelPos: [83.3, 710.3],
  },
  {
    id: 'o2', box: [666, 660, 681, 331], area: [720, 666, 1304.7, 946.7],
    yMin: -1, yMax: 6, yTicks: fluxTicksO2, yMinor: 0.1, yDec: 0, yTitleOff: 34.5, yLabelGap: 5,
    spectrum: o2Spectrum, fit: o2Fit, comps: [o2BlueBroad, o2RedBroad, o2BlueNarrow, o2RedNarrow],
    zero: o2ZeroRange, zeroSolid: false,
    label: [{ t: '[O ', f: L15 }, { t: 'II', f: S12 }, { t: '] 3726+3729', f: L15 }], labelPos: [1129, 709.3],
  },
];

const fmtX = (v: number) => (v < 0 ? '\u2212' + Math.abs(v) : String(v));

function makeAxesPlugin(p: Panel) {
  return {
    id: 'idlAxes',
    afterDraw(chart: any) {
      const ctx: CanvasRenderingContext2D = chart.ctx;
      const a = chart.chartArea;
      const xs = chart.scales.x;
      const ys = chart.scales.y;
      ctx.save();
      ctx.strokeStyle = '#000';
      ctx.lineWidth = 1.2;
      ctx.beginPath();
      const xMinor = 100;
      const nx = Math.round(4000 / xMinor);
      for (let i = 0; i <= nx; i++) {
        const v = -2000 + i * xMinor;
        const px = xs.getPixelForValue(v);
        const major = velocityTicks.some((t) => Math.abs(t - v) < 1);
        const len = major ? 9 : 4.5;
        ctx.moveTo(px, a.bottom); ctx.lineTo(px, a.bottom - len);
        ctx.moveTo(px, a.top); ctx.lineTo(px, a.top + len);
      }
      const ny = Math.round((p.yMax - p.yMin) / p.yMinor);
      for (let i = 0; i <= ny; i++) {
        const v = p.yMin + i * p.yMinor;
        const py = ys.getPixelForValue(v);
        const major = p.yTicks.some((t) => Math.abs(t - v) < p.yMinor / 10);
        const len = major ? 17 : 8.5;
        ctx.moveTo(a.left, py); ctx.lineTo(a.left + len, py);
        ctx.moveTo(a.right, py); ctx.lineTo(a.right - len, py);
      }
      ctx.stroke();
      ctx.lineWidth = 1.5;
      ctx.strokeRect(a.left, a.top, a.right - a.left, a.bottom - a.top);

      ctx.fillStyle = '#111';
      ctx.font = `13px ${FONT}`;
      ctx.textBaseline = 'alphabetic';
      ctx.textAlign = 'center';
      velocityTicks.forEach((t) => ctx.fillText(fmtX(t), xs.getPixelForValue(t), a.bottom + 17.3));
      ctx.textAlign = 'right';
      p.yTicks.forEach((t) => {
        let py = ys.getPixelForValue(t);
        py = Math.min(Math.max(py, a.top + 4.5), a.bottom - 3.5);
        ctx.fillText(t.toFixed(p.yDec), a.left - p.yLabelGap, py + 4.7);
      });

      (ctx as any).letterSpacing = '0.8px';
      ctx.textAlign = 'center';
      ctx.fillText('Velocity (km/s)', (a.left + a.right) / 2, a.bottom + 34);
      ctx.save();
      ctx.translate(a.left - p.yTitleOff, (a.top + a.bottom) / 2);
      ctx.rotate(-Math.PI / 2);
      ctx.fillText('Flux (arbitrary units)', 0, 0);
      ctx.restore();

      ctx.textAlign = 'left';
      ctx.fillStyle = '#000';
      (ctx as any).letterSpacing = '0.6px';
      let x = p.labelPos[0] - p.box[0];
      const y = p.labelPos[1] - p.box[1];
      p.label.forEach((s) => {
        ctx.font = s.f;
        ctx.fillText(s.t, x, y);
        x += ctx.measureText(s.t).width;
      });
      ctx.restore();
    },
  };
}

const toXY = (pts: Pt[]) => pts.map(([x, y]) => ({ x, y }));

function PanelChart({ p }: { p: Panel }) {
  const ref = useRef<HTMLCanvasElement | null>(null);
  useEffect(() => {
    if (!ref.current) return;
    const [cl, ct, cw, ch] = p.box;
    const [al, at, ar, ab] = p.area;
    const common = { pointRadius: 0, fill: false, clip: 0 };
    const datasets: any[] = [
      ...p.comps.map((c) => ({
        ...common, data: toXY(c), borderColor: BLUE, borderWidth: 1.4,
        borderDash: [6, 3, 1.5, 3], cubicInterpolationMode: 'monotone',
      })),
      {
        ...common, data: toXY([[p.zero[0], 0], [p.zero[1], 0]]), borderColor: BLUE,
        borderWidth: p.zeroSolid ? 2.4 : 1.8, borderDash: p.zeroSolid ? [] : [10, 4, 2, 4],
      },
      {
        ...common, data: toXY(p.fit), borderColor: GREEN, borderWidth: 2.4,
        borderDash: [8, 5], cubicInterpolationMode: 'monotone',
      },
      { ...common, data: toXY(p.spectrum), borderColor: BLACK, borderWidth: 2.1, tension: 0 },
    ];
    const chart = new Chart(ref.current, {
      type: 'line',
      data: { datasets },
      options: {
        animation: false,
        responsive: false,
        devicePixelRatio: 1,
        events: [],
        layout: { padding: { left: al - cl, top: at - ct, right: cl + cw - ar, bottom: ct + ch - ab } },
        scales: {
          x: { type: 'linear', min: -2000, max: 2000, display: false },
          y: { type: 'linear', min: p.yMin, max: p.yMax, display: false },
        },
        plugins: { legend: { display: false }, tooltip: { enabled: false } },
      } as any,
      plugins: [makeAxesPlugin(p)],
    });
    return () => chart.destroy();
  }, [p]);
  return (
    <canvas
      ref={ref}
      width={p.box[2]}
      height={p.box[3]}
      style={{ position: 'absolute', left: p.box[0], top: p.box[1], width: p.box[2], height: p.box[3] }}
    />
  );
}

export default function App() {
  return (
    <div style={{ position: 'absolute', left: 0, top: 0, width: 1347, height: 991, background: '#fff', overflow: 'hidden' }}>
      {panels.map((p) => (
        <PanelChart key={p.id} p={p} />
      ))}
    </div>
  );
}
